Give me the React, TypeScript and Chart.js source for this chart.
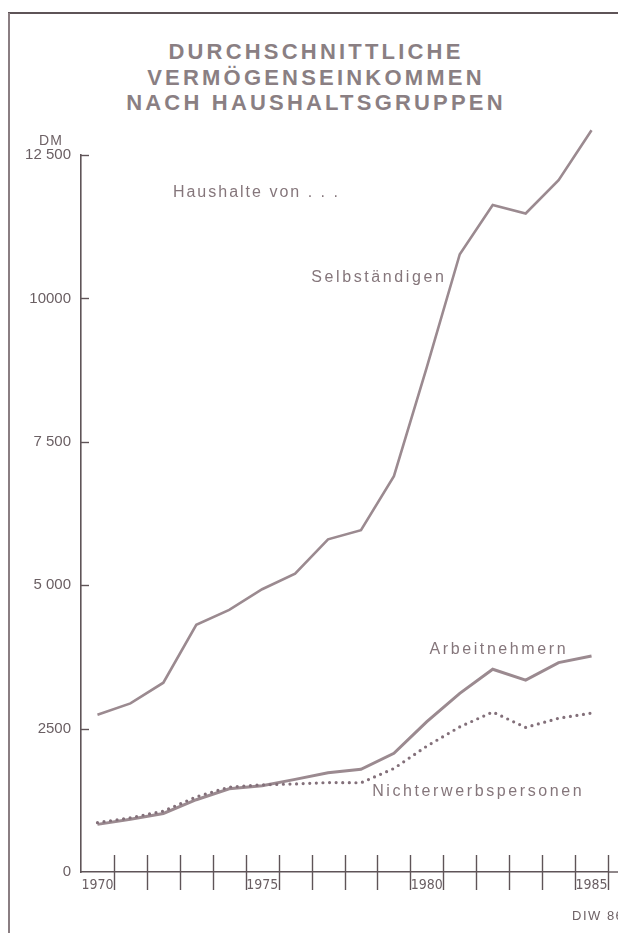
import React, { useEffect, useRef } from "react";
import { Chart, registerables } from "chart.js";

Chart.register(...registerables);

// ---------- data ----------
const years = [
  "1970", "1971", "1972", "1973", "1974", "1975", "1976", "1977",
  "1978", "1979", "1980", "1981", "1982", "1983", "1984", "1985",
];
const selbstaendige = [2740, 2940, 3300, 4310, 4570, 4930, 5200, 5800, 5960, 6900, 8800, 10770, 11630, 11480, 12060, 12930];
const arbeitnehmer = [830, 920, 1020, 1260, 1450, 1505, 1615, 1730, 1790, 2070, 2620, 3115, 3535, 3345, 3650, 3765];
const nichterwerbspersonen = [860, 945, 1060, 1310, 1480, 1520, 1535, 1560, 1555, 1805, 2195, 2530, 2790, 2520, 2680, 2770];

const labeledYears = ["1970", "1975", "1980", "1985"];
const yTickValues = [0, 2500, 5000, 7500, 10000, 12500];
const yTickLabels = ["0", "2500", "5 000", "7 500", "10000", "12 500"];

const titleLines = ["DURCHSCHNITTLICHE", "VERMÖGENSEINKOMMEN", "NACH HAUSHALTSGRUPPEN"];
const unitLabel = "DM";
const sourceLabel = "DIW 86";
const seriesNames = ["Selbständigen", "Arbeitnehmern", "Nichterwerbspersonen"];
const introLabel = "Haushalte von . . .";

// annotation anchors (in data terms: year, DM)
const annotations = [
  { text: introLabel, year: 1972.29, value: 11850, spacing: 2.0 },
  { text: seriesNames[0], year: 1976.49, value: 10370, spacing: 2.6 },
  { text: seriesNames[1], year: 1980.08, value: 3870, spacing: 2.6 },
  { text: seriesNames[2], year: 1978.34, value: 1395, spacing: 2.6 },
];

// ---------- styles ----------
const LINE = "#9b8a90";
const DOTS = "#83707a";
const AXIS = "#5f5458";
const TEXT = "#85767b";
const SANS = '"Liberation Sans", Arial, Helvetica, sans-serif';
const NARROW = '"DejaVu Sans Condensed", "Liberation Sans", sans-serif';

const decorPlugin = {
  id: "decor",
  afterDraw(chart: any) {
    const { ctx, chartArea, scales } = chart;
    const xs = scales.x;
    const ys = scales.y;
    const axisY = ys.getPixelForValue(0);
    const x0 = xs.getPixelForValue(0);
    const step = xs.getPixelForValue(1) - x0;
    const xPix = (yr: number) => x0 + (yr - 1970) * step;

    ctx.save();
    ctx.strokeStyle = AXIS;
    ctx.lineWidth = 1.4;
    // extend x-axis line to the edge
    ctx.beginPath();
    ctx.moveTo(chartArea.right, axisY);
    ctx.lineTo(chart.width, axisY);
    ctx.stroke();
    // x tick marks crossing the axis at year boundaries
    for (let i = 0; i < years.length; i++) {
      const x = Math.round(xs.getPixelForValue(i) + step / 2) + 0.5;
      ctx.beginPath();
      ctx.moveTo(x, axisY - 17);
      ctx.lineTo(x, axisY + 18);
      ctx.stroke();
    }
    // y tick marks pointing inward
    for (const v of yTickValues) {
      if (v === 0) continue;
      const y = Math.round(ys.getPixelForValue(v)) + 0.5;
      ctx.beginPath();
      ctx.moveTo(chartArea.left, y);
      ctx.lineTo(chartArea.left + 8, y);
      ctx.stroke();
    }

    // annotations
    ctx.fillStyle = TEXT;
    ctx.textBaseline = "middle";
    ctx.textAlign = "left";
    ctx.font = `16px ${SANS}`;
    for (const a of annotations) {
      (ctx as any).letterSpacing = `${a.spacing}px`;
      ctx.fillText(a.text, xPix(a.year), ys.getPixelForValue(a.value));
    }

    // unit label
    (ctx as any).letterSpacing = "1px";
    ctx.font = `14px ${SANS}`;
    ctx.textAlign = "center";
    ctx.fillStyle = "#6e6266";
    ctx.fillText(unitLabel, 51, ys.getPixelForValue(12500) - 14);

    // source
    (ctx as any).letterSpacing = "1.5px";
    ctx.font = `13px ${SANS}`;
    ctx.textAlign = "left";
    ctx.fillStyle = "#6e6266";
    ctx.fillText(sourceLabel, 572, 916);
    (ctx as any).letterSpacing = "0px";
    ctx.restore();
  },
};

export default function App() {
  const canvasRef = useRef<HTMLCanvasElement | null>(null);

  useEffect(() => {
    if (!canvasRef.current) return;
    const chart = new Chart(canvasRef.current, {
      type: "line",
      data: {
        labels: years,
        datasets: [
          {
            label: seriesNames[2],
            data: nichterwerbspersonen,
            borderColor: DOTS,
            borderWidth: 3.2,
            borderDash: [0, 6.6],
            borderCapStyle: "round",
            pointRadius: 0,
            tension: 0,
            clip: false,
          },
          {
            label: seriesNames[1],
            data: arbeitnehmer,
            borderColor: LINE,
            borderWidth: 3,
            pointRadius: 0,
            tension: 0,
            borderJoinStyle: "miter",
            clip: false,
          },
          {
            label: seriesNames[0],
            data: selbstaendige,
            borderColor: LINE,
            borderWidth: 2.6,
            pointRadius: 0,
            tension: 0,
            clip: false,
          },
        ],
      },
      options: {
        responsive: false,
        animation: false,
        layout: { padding: { left: 0, top: 155, right: 10, bottom: 31 } },
        plugins: {
          legend: { display: false },
          title: { display: false },
          tooltip: { enabled: false },
        },
        scales: {
          x: {
            type: "category",
            offset: true,
            grid: { display: false, offset: true, drawTicks: false },
            border: { display: true, color: AXIS, width: 1.6 },
            ticks: {
              autoSkip: false,
              maxRotation: 0,
              padding: 5,
              color: "#6a5f63",
              font: { family: NARROW, size: 14 },
              callback: (_v: any, i: number) =>
                labeledYears.includes(years[i]) ? years[i] : "",
            },
            afterFit: (s: any) => {
              s.height = 30;
            },
          },
          y: {
            min: 0,
            max: 12500,
            grid: { display: false, drawTicks: false },
            border: { display: true, color: AXIS, width: 1.6 },
            afterBuildTicks: (s: any) => {
              s.ticks = yTickValues.map((v) => ({ value: v }));
            },
            ticks: {
              padding: 10,
              color: "#6a5f63",
              font: { family: SANS, size: 15 },
              callback: (v: any) => {
                const idx = yTickValues.indexOf(Number(v));
                return idx >= 0 ? yTickLabels[idx] : "";
              },
            },
            afterFit: (s: any) => {
              s.width = 81;
            },
          },
        },
      },
      plugins: [decorPlugin],
    });
    return () => chart.destroy();
  }, []);

  return (
    <div
      style={{
        position: "absolute",
        left: 0,
        top: 0,
        width: 618,
        height: 933,
        background: "#ffffff",
        overflow: "hidden",
      }}
    >
      <div
        style={{
          position: "absolute",
          left: 8,
          top: 12,
          width: 610,
          height: 2,
          background: "#5e5457",
        }}
      />
      <div
        style={{
          position: "absolute",
          left: 8,
          top: 13,
          width: 2,
          height: 920,
          background: "#8a7e82",
        }}
      />
      <div
        style={{
          position: "absolute",
          left: 16,
          top: 39,
          width: 600,
          textAlign: "center",
          fontFamily: SANS,
          fontWeight: "bold",
          fontSize: 22,
          lineHeight: "25.5px",
          letterSpacing: "3.2px",
          color: "#8a7f83",
        }}
      >
        {titleLines.map((t) => (
          <div key={t}>{t}</div>
        ))}
      </div>
      <canvas
        ref={canvasRef}
        width={618}
        height={933}
        style={{ position: "absolute", left: 0, top: 0, width: 618, height: 933 }}
      />
    </div>
  );
}
